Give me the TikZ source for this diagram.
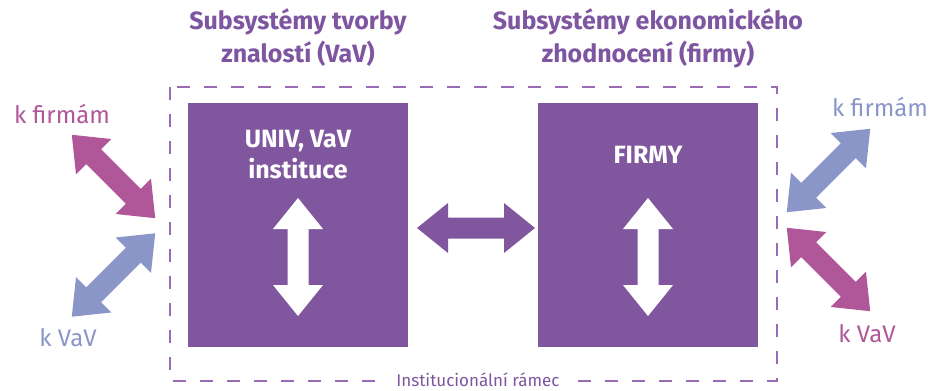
\documentclass[tikz,border=0pt]{standalone}
\usepackage{fontspec}
\setmainfont{Fira Sans}
\begin{document}
\begin{tikzpicture}[x=1pt,y=-1pt,
  box/.style={fill=boxc,draw=none,inner sep=0pt,anchor=north west},
  title/.style={text=titc,font=\fontsize{25}{33}\selectfont\bfseries,align=center},
  side/.style={font=\fontsize{24}{28}\selectfont},
  boxtext/.style={text=white,font=\fontsize{25}{31}\selectfont\bfseries,align=center},
  darrow/.pic={\fill[pic actions] (-59,0) -- (-28,25) -- (-28,10.5) -- (28,10.5) -- (28,25) -- (59,0) -- (28,-25) -- (28,-10.5) -- (-28,-10.5) -- (-28,-25) -- cycle;}
]
\definecolor{boxc}{HTML}{80579E}
\definecolor{titc}{HTML}{7E55A0}
\definecolor{magc}{HTML}{B0579A}
\definecolor{bluc}{HTML}{8A96C8}
\definecolor{dashc}{HTML}{9A6BB5}
\useasboundingbox (0,0) rectangle (935,391);
% institutional frame
\draw[dashc,line width=1.1pt,dash pattern=on 13pt off 14pt] (170,87) rectangle (777,381);
\node[fill=white,text=titc,font=\fontsize{17}{19}\selectfont,inner xsep=7pt,inner ysep=1pt] (frame) at (478,380) {Institucionální rámec};
% titles
\node[title] (t1) at (298,38) {Subsystémy tvorby\\znalostí (VaV)};
\node[title] (t2) at (648,38) {Subsystémy ekonomického\\zhodnocení (firmy)};
% boxes
\node[box,minimum width=220pt,minimum height=244pt] (univ) at (188,103) {};
\node[box,minimum width=220pt,minimum height=244pt] (firmy) at (538,103) {};
\node[boxtext] (ut) at (298,155) {UNIV, VaV\\instituce};
\node[boxtext] (ft) at (648,155) {FIRMY};
% arrows
\pic[fill=white,rotate=90] (wa1) at (298,257) {darrow};
\pic[fill=white,rotate=90] (wa2) at (648,257) {darrow};
\pic[fill=boxc] (mid) at (476,228) {darrow};
\pic[fill=magc,rotate=-45] (lm) at (113.5,176.5) {darrow};
\pic[fill=bluc,rotate=45] (lb) at (113.5,275) {darrow};
\pic[fill=bluc,rotate=45] (rb) at (828.5,170.5) {darrow};
\pic[fill=magc,rotate=-45] (rm) at (828.5,269.5) {darrow};
% side labels
\node[side,text=magc] (lf) at (62,114) {k firmám};
\node[side,text=bluc] (lv) at (68,338) {k VaV};
\node[side,text=bluc] (rf) at (880,107) {k firmám};
\node[side,text=magc] (rv) at (867,334) {k VaV};
\end{tikzpicture}
\end{document}
